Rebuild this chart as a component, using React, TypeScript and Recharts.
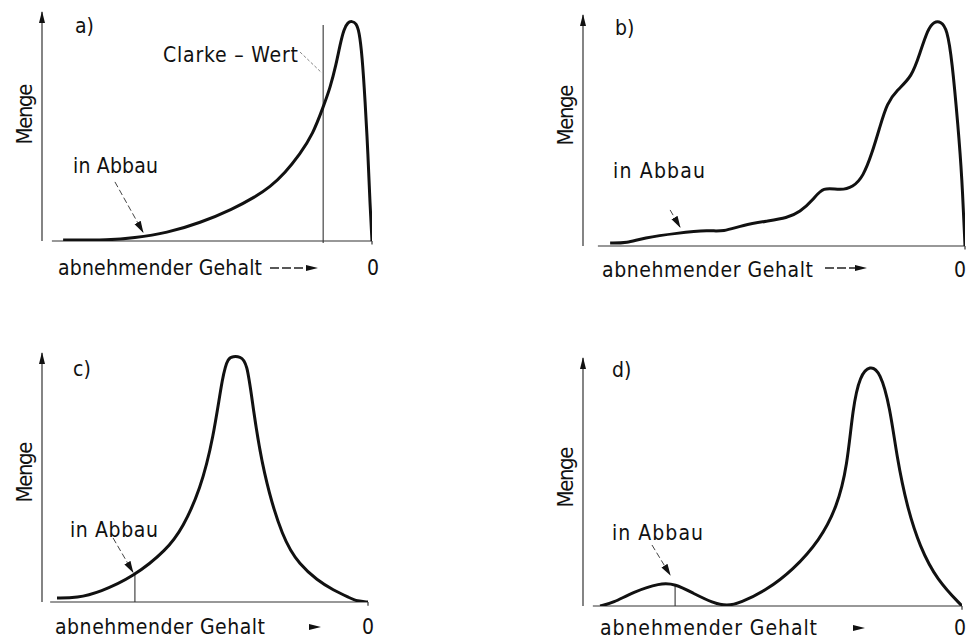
import { LineChart, Line, XAxis, YAxis, ReferenceLine } from 'recharts';

// x: position along "abnehmender Gehalt" (0 = y-axis, 100 = Gehalt 0), y: Menge (0..100)
const aGehalt = [6.4, 20.6, 27.6, 37.9, 47.9, 57.9, 64.5, 69.1, 73.6, 78.2, 82.1, 85.2, 87.3, 89.1, 90.3, 91.5, 92.7, 93.9, 95.2, 96.1, 97.0, 97.9, 98.8, 99.4, 100];
const aMenge = [0.4, 0.4, 1.3, 3.5, 7.9, 14.0, 19.2, 23.6, 29.7, 38.0, 46.7, 58.5, 66.8, 76.9, 85.6, 92.6, 95.6, 96.0, 95.2, 91.7, 81.2, 61.6, 37.6, 15.7, 0];

const bGehalt = [7.1, 11.5, 15.7, 24.6, 33.2, 36.6, 41.9, 48.2, 53.4, 56.8, 60.2, 62.8, 67.3, 70.7, 73.3, 75.7, 77.7, 79.6, 82.2, 86.1, 88.2, 90.3, 91.9, 93.7, 95.3, 96.6, 98.2, 99.2, 100];
const bMenge = [1.3, 1.3, 3.5, 5.6, 6.9, 6.1, 9.1, 10.8, 12.1, 14.7, 19.9, 25.8, 24.0, 25.5, 29.9, 40.3, 51.5, 61.9, 67.5, 73.2, 83.5, 94.0, 97.2, 97.2, 94.0, 80.5, 51.5, 29.9, 0];

const cGehalt = [4.6, 10.7, 17.8, 27.9, 38.3, 43.3, 48.5, 52.5, 55.5, 57.1, 58.6, 60.7, 62.9, 64.7, 67.8, 73.9, 79.1, 84.4, 89.3, 94.5, 96.6, 100];
const cMenge = [1.6, 1.6, 4.0, 10.0, 20.9, 30.1, 45.0, 65.1, 92.0, 98.0, 98.6, 98.6, 96.6, 78.3, 51.8, 24.9, 14.9, 8.8, 4.8, 1.6, 0.3, 0];

const dGehalt = [4.5, 7.9, 13.2, 20.3, 24.3, 29.0, 34.3, 38.0, 41.4, 48.5, 55.4, 62.5, 67.0, 69.7, 71.2, 73.1, 75.7, 78.4, 81.0, 82.8, 85.5, 88.9, 93.4, 100];
const dMenge = [0, 1.2, 5.6, 9.3, 8.9, 5.2, 1.2, 0, 1.2, 6.5, 14.5, 26.6, 39.9, 56.0, 80.2, 93.0, 97.0, 94.6, 80.2, 60.1, 39.9, 23.8, 10.5, 0];

// where the x-axis line begins, per panel
const axisStart = { a: 3.0, b: 3.9, c: 2.5, d: 2.6 };

const zip = (xs: number[], ys: number[]) => xs.map((x, i) => ({ x, y: ys[i] }));

const INK = '#111';
const FONT = "'DejaVu Sans Condensed', 'DejaVu Sans', sans-serif";

type Seg = [{ x: number; y: number }, { x: number; y: number }];

const seg = (x1: number, y1: number, x2: number, y2: number): Seg => [
  { x: x1, y: y1 },
  { x: x2, y: y2 },
];

function lineShape(stroke: string, width: number, dash?: string, marker?: string) {
  return (p: any) => (
    <line
      x1={p.x1}
      y1={p.y1}
      x2={p.x2}
      y2={p.y2}
      stroke={stroke}
      strokeWidth={width}
      strokeDasharray={dash}
      markerEnd={marker ? `url(#${marker})` : undefined}
    />
  );
}

interface PanelProps {
  left: number;
  top: number;
  width: number;
  height: number;
  margin: { top: number; right: number; bottom: number; left: number };
  data: { x: number; y: number }[];
  start: number;
  extras: Seg[];
  pointer: Seg;
  dashedExtra?: Seg;
}

function Panel({ left, top, width, height, margin, data, start, extras, pointer, dashedExtra }: PanelProps) {
  return (
    <div style={{ position: 'absolute', left, top }}>
      <LineChart width={width} height={height} data={data} margin={margin}>
        <XAxis dataKey="x" type="number" domain={[0, 100]} hide allowDataOverflow />
        <YAxis type="number" domain={[0, 100]} hide allowDataOverflow />
        {/* Menge axis with arrow */}
        <ReferenceLine segment={seg(0, 0, 0, 100)} ifOverflow="visible" shape={lineShape('#333', 1.2, undefined, 'axisHead')} />
        {/* Gehalt axis */}
        <ReferenceLine segment={seg(start, 0, 100, 0)} ifOverflow="visible" shape={lineShape('#333', 1.2)} />
        <ReferenceLine segment={seg(100, 0, 100, -1.5)} ifOverflow="visible" shape={lineShape('#333', 1.2)} />
        {extras.map((s, i) => (
          <ReferenceLine key={i} segment={s} ifOverflow="visible" shape={lineShape('#333', 1.1)} />
        ))}
        {dashedExtra && (
          <ReferenceLine segment={dashedExtra} ifOverflow="visible" shape={lineShape('#777', 0.9, '3 2')} />
        )}
        <ReferenceLine segment={pointer} ifOverflow="visible" shape={lineShape('#444', 1, '6 3', 'leadHead')} />
        <Line
          type="basis"
          dataKey="y"
          stroke={INK}
          strokeWidth={3}
          dot={false}
          isAnimationActive={false}
        />
      </LineChart>
    </div>
  );
}

function T({ x, y, len, size = 21, children }: { x: number; y: number; len?: number; size?: number; children: string }) {
  return (
    <text
      x={x}
      y={y}
      fontSize={size}
      fontFamily={FONT}
      style={{ fontStretch: 'condensed' }}
      fill={INK}
      textLength={len}
      lengthAdjust={len ? 'spacing' : undefined}
    >
      {children}
    </text>
  );
}

function Menge({ cx, cy }: { cx: number; cy: number }) {
  return (
    <text
      x={0}
      y={0}
      transform={`translate(${cx},${cy}) rotate(-90)`}
      textAnchor="middle"
      fontSize={22}
      fontFamily={FONT}
      style={{ fontStretch: 'condensed' }}
      fill={INK}
      textLength={61}
      lengthAdjust="spacing"
    >
      Menge
    </text>
  );
}

function DirArrow({ x1, x2, y, dashed }: { x1: number; x2: number; y: number; dashed: boolean }) {
  return (
    <g>
      {dashed && <line x1={x1} y1={y} x2={x2 - 10} y2={y} stroke="#222" strokeWidth={1.3} strokeDasharray="9 3" />}
      <path d={`M${x2 - 12},${y - 3} L${x2},${y} L${x2 - 12},${y + 3} z`} fill={INK} />
    </g>
  );
}

export default function App() {
  return (
    <div style={{ position: 'absolute', left: 0, top: 0, width: 968, height: 641, background: '#fff', overflow: 'hidden' }}>
      <Panel
        left={0}
        top={0}
        width={484}
        height={320}
        margin={{ top: 12, right: 112, bottom: 79, left: 42 }}
        data={zip(aGehalt, aMenge)}
        start={axisStart.a}
        extras={[seg(85.2, -0.9, 85.2, 94.3)]}
        dashedExtra={seg(78.2, 82.5, 84.8, 73.4)}
        pointer={seg(22.1, 25.8, 30.6, 3.9)}
      />
      <Panel
        left={484}
        top={0}
        width={484}
        height={320}
        margin={{ top: 15, right: 3, bottom: 74, left: 99 }}
        data={zip(bGehalt, bMenge)}
        start={axisStart.b}
        extras={[]}
        pointer={seg(22.8, 15.6, 25.4, 8.2)}
      />
      <Panel
        left={0}
        top={320}
        width={484}
        height={321}
        margin={{ top: 33, right: 116, bottom: 39, left: 42 }}
        data={zip(cGehalt, cMenge)}
        start={axisStart.c}
        extras={[seg(28.5, 0, 28.5, 10.8)]}
        pointer={seg(21.8, 25.7, 27.9, 12.0)}
      />
      <Panel
        left={484}
        top={320}
        width={484}
        height={321}
        margin={{ top: 38, right: 6, bottom: 35, left: 99 }}
        data={zip(dGehalt, dMenge)}
        start={axisStart.d}
        extras={[seg(24.3, 0, 24.3, 8.5)]}
        pointer={seg(18.2, 24.6, 23.0, 12.5)}
      />
      <svg width={968} height={641} style={{ position: 'absolute', left: 0, top: 0, pointerEvents: 'none' }}>
        <defs>
          <marker id="axisHead" viewBox="0 0 12 8" refX="11" refY="4" markerWidth="12" markerHeight="8" markerUnits="userSpaceOnUse" orient="auto">
            <path d="M0,1 L12,4 L0,7 z" fill={INK} />
          </marker>
          <marker id="leadHead" viewBox="0 0 12 8" refX="11" refY="4" markerWidth="12" markerHeight="8" markerUnits="userSpaceOnUse" orient="auto">
            <path d="M0,0.5 L12,4 L0,7.5 z" fill={INK} />
          </marker>
        </defs>
        {/* a */}
        <T x={75} y={33}>a)</T>
        <T x={163} y={62} len={135}>Clarke – Wert</T>
        <Menge cx={32} cy={114} />
        <T x={73} y={173} len={85}>in Abbau</T>
        <T x={58} y={275} len={204}>abnehmender Gehalt</T>
        <DirArrow x1={270} x2={318} y={268} dashed />
        <T x={367} y={275}>0</T>
        {/* b */}
        <T x={615} y={35}>b)</T>
        <Menge cx={573} cy={115} />
        <T x={613} y={178} len={92}>in Abbau</T>
        <T x={602} y={277} len={211}>abnehmender Gehalt</T>
        <DirArrow x1={825} x2={867} y={268} dashed />
        <T x={954} y={277}>0</T>
        {/* c */}
        <T x={73} y={376}>c)</T>
        <Menge cx={32} cy={472} />
        <T x={70} y={537} len={88}>in Abbau</T>
        <T x={55} y={634} len={210}>abnehmender Gehalt</T>
        <DirArrow x1={310} x2={321} y={627} dashed={false} />
        <T x={362} y={634}>0</T>
        {/* d */}
        <T x={612} y={377}>d)</T>
        <Menge cx={573} cy={477} />
        <T x={612} y={540} len={91}>in Abbau</T>
        <T x={600} y={635} len={217}>abnehmender Gehalt</T>
        <DirArrow x1={853} x2={865} y={628} dashed={false} />
        <T x={954} y={635}>0</T>
      </svg>
    </div>
  );
}
